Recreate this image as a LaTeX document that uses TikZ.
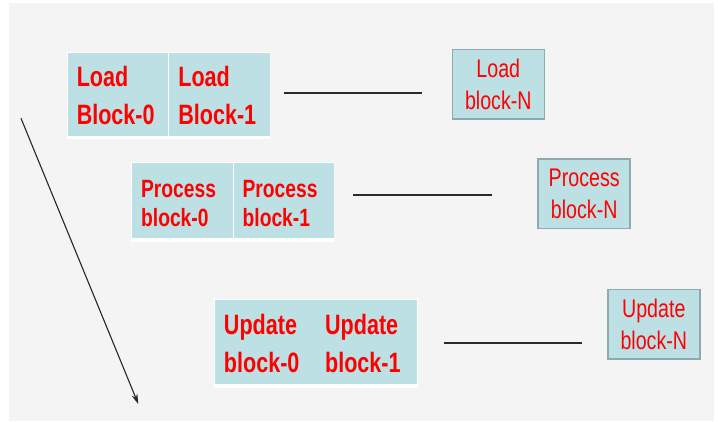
\documentclass[tikz,border=0pt]{standalone}
\usepackage{fontspec}
\setmainfont{Liberation Sans}
\newfontfamily\narrowf{Liberation Sans}[FakeStretch=0.77]
\usetikzlibrary{arrows.meta}
\definecolor{bgcol}{HTML}{F4F4F4}
\definecolor{cellcol}{HTML}{BCE0E4}
\definecolor{nbord}{HTML}{8FA9AC}
\definecolor{txtcol}{HTML}{FF0000}
\definecolor{lncol}{HTML}{2A2A2A}
\newcommand\firstline[1]{\rule{0pt}{#1}}
\begin{document}
\begin{tikzpicture}[x=1bp,y=-1bp,
  cellbox/.style={fill=cellcol, inner sep=0pt, inner xsep=9bp, align=left, text=txtcol,
    text width=82.7bp, minimum width=100.7bp},
  bigtxt/.style={font=\narrowf\bfseries\fontsize{28bp}{37.5bp}\selectfont, minimum height=83.3bp},
  proctxt/.style={font=\narrowf\bfseries\fontsize{25bp}{29.5bp}\selectfont, minimum height=75.5bp},
  nbox/.style={fill=cellcol, draw=nbord, line width=1.5bp, inner sep=0pt, align=center, text=txtcol,
    minimum width=92bp, minimum height=69.5bp, font=\narrowf\fontsize{25.5bp}{32bp}\selectfont},
  pairback/.style={fill=white},
  connline/.style={draw=lncol, line width=2bp},
  timearrow/.style={draw=black!85, line width=1.1bp, -{Stealth[length=10bp,width=6bp]}}
]
\useasboundingbox (0,0) rectangle (718,421);
\fill[white] (0,0) rectangle (718,421);
\fill[bgcol] (9,3) rectangle (714,421);

% Load pair
\fill[pairback] (66.8,51.7) rectangle (270,139);
\node[cellbox,bigtxt] (load0) at (118.1,94.3) {\firstline{23bp}Load\\Block-0};
\node[cellbox,bigtxt] (load1) at (219.7,94.3) {\firstline{23bp}Load\\Block-1};
\node[nbox] (loadN) at (498.3,84.2) {Load\\block-N};

% Process pair
\fill[pairback] (131,161.5) rectangle (334.3,242);
\node[cellbox,proctxt] (proc0) at (182.5,200.3) {\firstline{24bp}Process\\block-0};
\node[cellbox,proctxt] (proc1) at (284,200.3) {\firstline{24bp}Process\\block-1};
\node[nbox] (procN) at (584.2,193.8) {Process\\block-N};

% Update pair
\fill[pairback] (214,299) rectangle (417.7,388);
\node[cellbox,bigtxt] (upd0) at (265.3,342) {\firstline{23bp}Update\\block-0};
\node[cellbox,bigtxt] (upd1) at (366.5,342) {\firstline{23bp}Update\\block-1};
\node[nbox] (updN) at (653.8,324.2) {Update\\block-N};

% connecting lines
\coordinate (la) at (284,93);   \coordinate (lb) at (422,93);
\coordinate (pa) at (353,195);  \coordinate (pb) at (491.7,195);
\coordinate (ua) at (444,343.3);\coordinate (ub) at (581.7,343.3);
\draw[connline] (la) -- (lb);
\draw[connline] (pa) -- (pb);
\draw[connline] (ua) -- (ub);

% time arrow
\coordinate (ts) at (21,118.3);
\coordinate (te) at (138.3,404);
\draw[timearrow] (ts) -- (te);
\end{tikzpicture}
\end{document}
